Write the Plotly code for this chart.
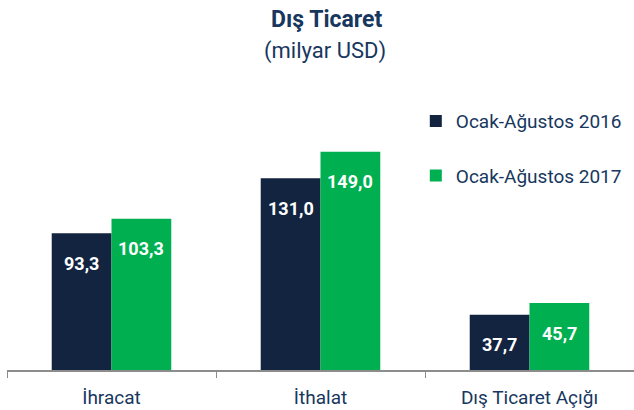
import plotly.graph_objects as go

categories = ["İhracat", "İthalat", "Dış Ticaret Açığı"]
series_names = ["Ocak-Ağustos 2016", "Ocak-Ağustos 2017"]
values_2016 = [93.3, 131.0, 37.7]
values_2017 = [103.3, 149.0, 45.7]
colors = ["#12243f", "#00b050"]

FONT = "Roboto, Lato, sans-serif"
NAVY = "#17375e"

def fmt(v):
    return f"{v:.1f}".replace(".", ",")

fig = go.Figure()
for i, (name, vals) in enumerate(zip(series_names, [values_2016, values_2017])):
    fig.add_trace(go.Bar(
        x=categories, y=vals, name=name, marker_color=colors[i],
        marker_line_width=0, legendgroup=f"g{i}",
    ))

annotations = []
for i, vals in enumerate([values_2016, values_2017]):
    for c, v in zip(categories, vals):
        annotations.append(dict(
            x=c, y=v, text=f"<b>{fmt(v)}</b>", showarrow=False,
            xshift=(-29.8 if i == 0 else 29.8), yshift=-30,
            font=dict(family=FONT, size=18, color="white"),
            xref="x", yref="y", yanchor="middle",
        ))

annotations.append(dict(
    text="<b>Dış Ticaret</b>", x=0.509, y=1.21, xref="paper", yref="paper",
    xanchor="center", yanchor="middle", showarrow=False,
    font=dict(family=FONT, size=23, color=NAVY),
))
annotations.append(dict(
    text="(milyar USD)", x=0.507, y=1.10, xref="paper", yref="paper",
    xanchor="center", yanchor="middle", showarrow=False,
    font=dict(family=FONT, size=22, color=NAVY),
))

fig.update_layout(
    width=634, height=410,
    margin=dict(l=7, r=0, t=80, b=40),
    paper_bgcolor="white", plot_bgcolor="white",
    barmode="group", bargap=0.428, bargroupgap=0,
    showlegend=True,
    legend=dict(
        x=0.652, xanchor="left", y=0.924, yanchor="top",
        font=dict(family=FONT, size=19, color=NAVY),
        tracegroupgap=27, itemwidth=30,
        bgcolor="rgba(0,0,0,0)",
    ),
    xaxis=dict(
        showline=True, linecolor="#8c8c8c", linewidth=1.5,
        ticks="outside", tickson="boundaries", ticklen=6, tickcolor="#8c8c8c",
        tickfont=dict(family=FONT, size=19, color=NAVY),
        ticklabelstandoff=9,
        showgrid=False,
    ),
    yaxis=dict(range=[0, 198], visible=False, showgrid=False),
    annotations=annotations,
)

fig.write_html("out.html", config={"displayModeBar": False},
               post_script="document.body.style.margin='0';")
